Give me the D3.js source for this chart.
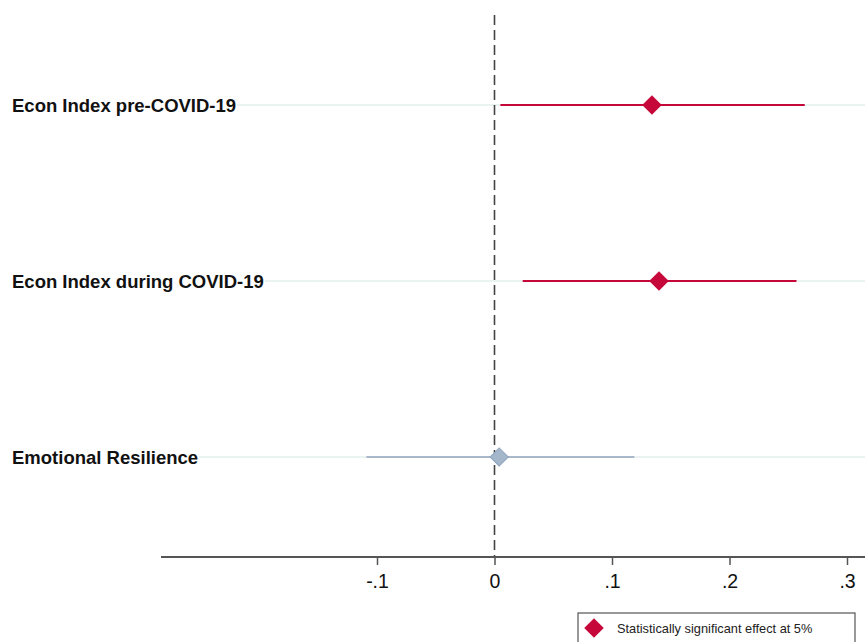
<!DOCTYPE html>
<html>
<head>
<meta charset="utf-8">
<script src="https://cdn.jsdelivr.net/npm/d3@7"></script>
<style>
  html, body { margin: 0; padding: 0; background: #fff; }
  svg { display: block; }
</style>
</head>
<body>
<svg id="chart" width="865" height="642"></svg>
<script>
// Coefficient estimates with 95% confidence intervals
const labels = ["Econ Index pre-COVID-19", "Econ Index during COVID-19", "Emotional Resilience"];
const estimates = [0.134, 0.140, 0.004];
const lower = [0.005, 0.024, -0.109];
const upper = [0.264, 0.257, 0.119];
const significant = [true, true, false];
const tickValues = [-0.1, 0, 0.1, 0.2, 0.3];
const tickLabels = ["-.1", "0", ".1", ".2", ".3"];
const legendLabel = "Statistically significant effect at 5%";

const sigColor = "#c5073a";
const insigLine = "#a8b8c9";
const insigFill = "#a3b6ca";
const font = "'Liberation Sans', Arial, Helvetica, sans-serif";

const svg = d3.select("#chart");

const plot = { left: 161, right: 865, top: 15, bottom: 557 };

const x = d3.scaleLinear().domain([-0.1, 0.3]).range([377, 847]);
const y = d3.scalePoint().domain(labels).range([105, 457]);

// row labels with light guides running from the label to the right edge
const rows = svg.append("g");
labels.forEach((lab) => {
  const t = rows.append("text")
    .attr("x", 12).attr("y", y(lab) + 6.5)
    .attr("font-family", font)
    .attr("font-weight", "bold").attr("font-size", 18.5).attr("fill", "#111")
    .text(lab);
  const end = 12 + t.node().getComputedTextLength() + 1;
  rows.insert("line", "text")
    .attr("x1", Math.max(plot.left, end)).attr("x2", plot.right)
    .attr("y1", y(lab)).attr("y2", y(lab))
    .attr("stroke", "#e4eeee").attr("stroke-width", 1.5);
});

// zero reference line
svg.append("line")
  .attr("x1", x(0)).attr("x2", x(0))
  .attr("y1", plot.top).attr("y2", plot.bottom)
  .attr("stroke", "#444").attr("stroke-width", 1.6)
  .attr("stroke-dasharray", "10,5");

// x axis
const axis = d3.axisBottom(x).tickValues(tickValues)
  .tickFormat((d, i) => tickLabels[i]).tickSize(8).tickPadding(9);
const ax = svg.append("g").attr("transform", `translate(0,${plot.bottom})`).call(axis);
ax.select(".domain").remove();
ax.append("line").attr("x1", plot.left).attr("x2", plot.right)
  .attr("stroke", "#555").attr("stroke-width", 2);
ax.selectAll(".tick line").attr("stroke", "#555").attr("stroke-width", 1.5);
ax.selectAll(".tick text")
  .attr("font-family", font)
  .attr("font-size", 19.5).attr("fill", "#111");

const diamond = d3.symbol().type(d3.symbolSquare).size(165);

// confidence intervals and point estimates
const marks = svg.append("g");
labels.forEach((lab, i) => {
  const c = significant[i] ? sigColor : insigLine;
  marks.append("line")
    .attr("x1", x(lower[i])).attr("x2", x(upper[i]))
    .attr("y1", y(lab)).attr("y2", y(lab))
    .attr("stroke", c).attr("stroke-width", 2);
  marks.append("path")
    .attr("d", diamond)
    .attr("transform", `translate(${x(estimates[i])},${y(lab)}) rotate(45)`)
    .attr("fill", significant[i] ? sigColor : insigFill)
    .attr("stroke", significant[i] ? sigColor : "#8ea4bc")
    .attr("stroke-width", 1);
});

// legend
const lg = svg.append("g");
lg.append("rect").attr("x", 578).attr("y", 613).attr("width", 277).attr("height", 40)
  .attr("fill", "#fff").attr("stroke", "#555").attr("stroke-width", 1.2);
lg.append("path").attr("d", diamond)
  .attr("transform", "translate(594,628) rotate(45)")
  .attr("fill", sigColor).attr("stroke", sigColor);
lg.append("text").attr("x", 617).attr("y", 633)
  .attr("font-family", font)
  .attr("font-size", 12.8).attr("fill", "#222")
  .text(legendLabel);
</script>
</body>
</html>
